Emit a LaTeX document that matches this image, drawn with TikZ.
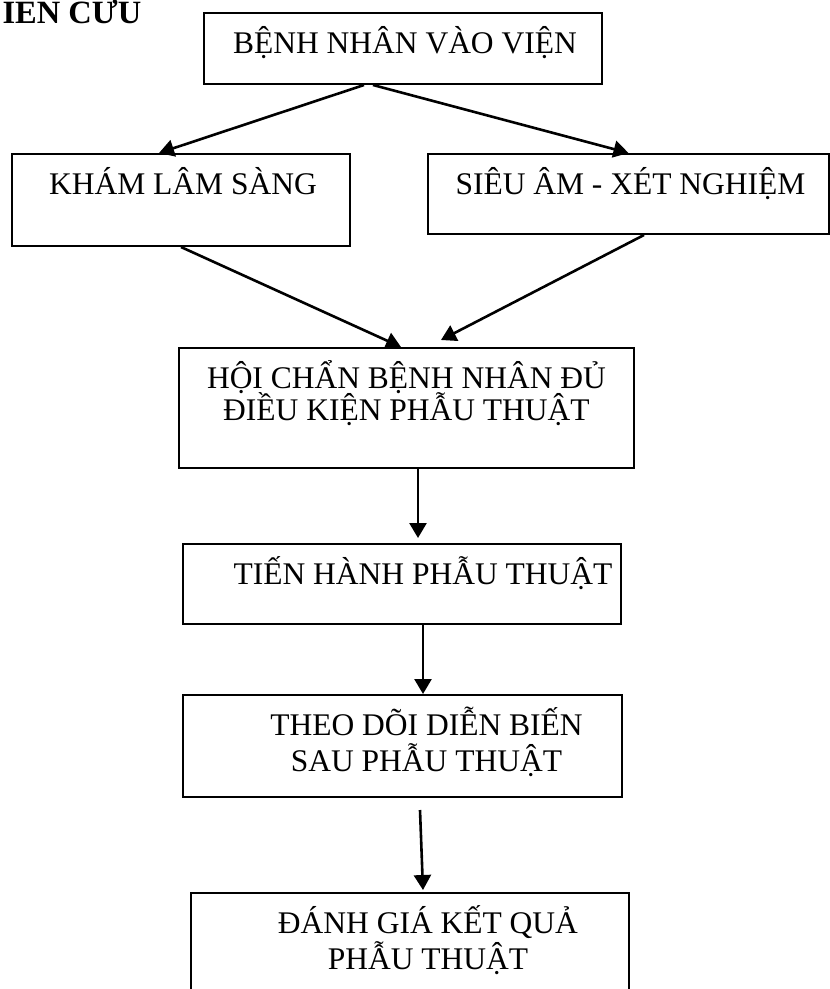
\documentclass[tikz,border=0pt]{standalone}
\usepackage{fontspec}
\setmainfont{Liberation Serif}
\usepackage{tikz}
\usetikzlibrary{arrows.meta}
\tikzset{
    flowbox/.style={draw, line width=2pt, inner sep=0pt, anchor=north west},
    flowarrow/.style={-{Triangle[length=15pt,width=17pt]}, line width=2.6pt},
}
% text sits at the top of each box, shifted right by half of #1
\newcommand{\flowtext}[4][0pt]{\parbox[c][#3][t]{#2}{\centering\advance\leftskip by #1\relax
    \lineskiplimit=-100pt\rule{0pt}{40pt}#4}}

\begin{document}
\begin{tikzpicture}[x=1pt,y=-1pt,font=\fontsize{31.5}{36}\selectfont]
\clip (0,0) rectangle (830,989);
%\draw[step=50,lightgray,very thin] (0,0) grid (830,989);
\node[font=\fontsize{32.5}{36}\selectfont\bfseries, anchor=base west] (title) at (-1,23) {IÊN CỨU};
\node[flowbox] (b1) at (203,12) {\flowtext[4pt]{398pt}{71pt}{BỆNH NHÂN VÀO VIỆN}};
\node[flowbox] (b2) at (11,153) {\flowtext[4pt]{338pt}{92pt}{KHÁM LÂM SÀNG}};
\node[flowbox] (b3) at (427,153) {\flowtext[4pt]{401pt}{80pt}{SIÊU ÂM - XÉT NGHIỆM}};
\node[flowbox, font=\fontsize{31.5}{32}\selectfont] (b4) at (178,347) {\flowtext{455pt}{120pt}{HỘI CHẨN BỆNH NHÂN ĐỦ\\ĐIỀU KIỆN PHẪU THUẬT}};
\node[flowbox] (b5) at (182,543) {\flowtext[42pt]{438pt}{80pt}{TIẾN HÀNH PHẪU THUẬT}};
\node[flowbox] (b6) at (182,694) {\flowtext[48pt]{439pt}{102pt}{THEO DÕI DIỄN BIẾN\\SAU PHẪU THUẬT}};
\node[flowbox] (b7) at (190,892) {\flowtext[36pt]{438pt}{128pt}{ĐÁNH GIÁ KẾT QUẢ\\PHẪU THUẬT}};

\draw[flowarrow] ([xshift=-39pt]b1.south) -- ([xshift=-22pt]b2.north);
\draw[flowarrow] ([xshift=-30pt]b1.south) -- (b3.north);
\draw[flowarrow] (b2.south) -- ([xshift=-5.5pt]b4.north);
\draw[flowarrow] ([xshift=15.5pt]b3.south) -- ([xshift=34.5pt,yshift=7pt]b4.north);
\draw[flowarrow] ([xshift=11.5pt]b4.south) -- ([xshift=11.5pt,yshift=5pt]b4.south |- b5.north);
\draw[flowarrow] ([xshift=21pt]b5.south) -- ([xshift=20.5pt]b6.north);
\draw[flowarrow] ([xshift=17.5pt,yshift=-12pt]b6.south) -- ([xshift=13pt,yshift=2pt]b7.north);
\end{tikzpicture}
\end{document}
